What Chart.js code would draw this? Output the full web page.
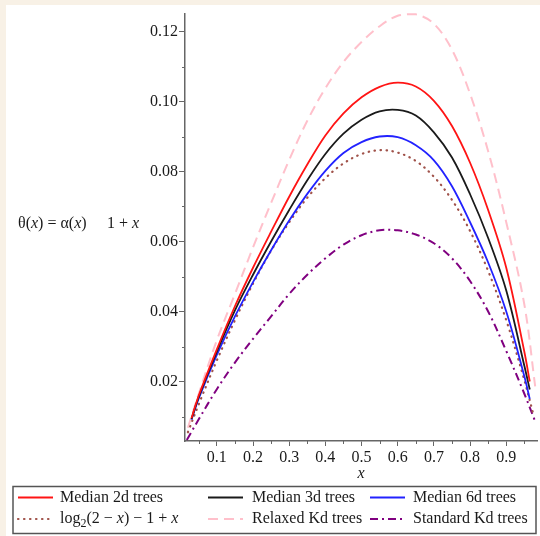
<!DOCTYPE html>
<html>
<head>
<meta charset="utf-8">
<script src="https://cdn.jsdelivr.net/npm/chart.js@4.4.1/dist/chart.umd.min.js"></script>
<style>
  html, body { margin: 0; padding: 0; background: #f8f1e6; }
  #wrap { position: absolute; left: 6px; top: 5px; width: 534px; height: 531px; background: #fff; }
</style>
</head>
<body>
<div id="wrap"><canvas id="chart" width="534" height="531"></canvas></div>
<script>
// values
const medianXs = [0.03, 0.05, 0.1, 0.15, 0.2, 0.25, 0.3, 0.35, 0.4, 0.45, 0.5, 0.55, 0.6, 0.65, 0.7, 0.75, 0.8, 0.85, 0.9, 0.95, 0.965]
const median2d = [0.0095, 0.0160, 0.0292, 0.0415, 0.0525, 0.0628, 0.0728, 0.0820, 0.0903, 0.0966, 0.1012, 0.1042, 0.1054, 0.1043, 0.1002, 0.0930, 0.0825, 0.0690, 0.0525, 0.0285, 0.0200]
const median3d = [0.0093, 0.0156, 0.0285, 0.0403, 0.0505, 0.0600, 0.0690, 0.0775, 0.0850, 0.0908, 0.0948, 0.0972, 0.0976, 0.0960, 0.0912, 0.0840, 0.0735, 0.0610, 0.0460, 0.0245, 0.0177]
const median6d = [0.0091, 0.0152, 0.0276, 0.0386, 0.0484, 0.0575, 0.0660, 0.0736, 0.0802, 0.0853, 0.0884, 0.0900, 0.0898, 0.0875, 0.0832, 0.0758, 0.0655, 0.0540, 0.0400, 0.0215, 0.0150]

const logXs = [0.02, 0.05, 0.1, 0.15, 0.2, 0.25, 0.3, 0.35, 0.4, 0.45, 0.5, 0.55, 0.6, 0.65, 0.7, 0.75, 0.8, 0.85, 0.9, 0.95, 0.975]
const logValues = [0.0055, 0.0135, 0.0260, 0.0375, 0.0480, 0.0574, 0.0655, 0.0725, 0.0781, 0.0823, 0.0850, 0.0861, 0.0854, 0.0830, 0.0785, 0.0719, 0.0630, 0.0516, 0.0375, 0.0204, 0.0106]

const relaxedXs = [0.02, 0.05, 0.1, 0.15, 0.2, 0.25, 0.3, 0.35, 0.4, 0.45, 0.5, 0.55, 0.6, 0.65, 0.7, 0.75, 0.8, 0.85, 0.9, 0.95, 0.98]
const relaxed = [0.0068, 0.0165, 0.0318, 0.0450, 0.0583, 0.0710, 0.0833, 0.0945, 0.1038, 0.1113, 0.1170, 0.1215, 0.1245, 0.1249, 0.1222, 0.1148, 0.1022, 0.0858, 0.0655, 0.0420, 0.0186]

const standardXs = [0.017, 0.05, 0.1, 0.15, 0.2, 0.25, 0.3, 0.35, 0.4, 0.45, 0.5, 0.55, 0.6, 0.65, 0.7, 0.75, 0.8, 0.85, 0.9, 0.95, 0.98]
const standard = [0.0033, 0.0092, 0.0178, 0.0254, 0.0322, 0.0386, 0.0450, 0.0505, 0.0552, 0.0591, 0.0618, 0.0632, 0.0632, 0.0620, 0.0595, 0.0552, 0.0487, 0.0400, 0.0287, 0.0165, 0.0086]

const seriesLabels = ['Median 2d trees', 'Median 3d trees', 'Median 6d trees', 'log2(2 - x) - 1 + x', 'Relaxed Kd trees', 'Standard Kd trees']

const xTicks = [0.1, 0.2, 0.3, 0.4, 0.5, 0.6, 0.7, 0.8, 0.9]
const xTickLabels = ['0.1', '0.2', '0.3', '0.4', '0.5', '0.6', '0.7', '0.8', '0.9']
const xMinorTicks = [0.05, 0.15, 0.25, 0.35, 0.45, 0.55, 0.65, 0.75, 0.85, 0.95]
const yTicks = [0.02, 0.04, 0.06, 0.08, 0.10, 0.12]
const yTickLabels = ['0.02', '0.04', '0.06', '0.08', '0.10', '0.12']
const yMinorTicks = [0.01, 0.03, 0.05, 0.07, 0.09, 0.11]

const serif = "'Liberation Serif', 'Times New Roman', serif"
const axisColor = '#666'
const textColor = '#1a1a1a'

const toPoints = (xs, ys) => xs.map((x, i) => ({x: x, y: ys[i]}))

function drawRich(ctx, x, y, parts, size){
    parts.forEach(p => {
        ctx.font = (p.it ? 'italic ' : '') + (p.sub ? size * 0.75 : size) + 'px ' + serif
        ctx.fillText(p.t, x, p.sub ? y + size * 0.3 : y)
        x += ctx.measureText(p.t).width
    })
}

const minorTicks = {
    id: 'minorTicks',
    afterDraw(chart){
        const ctx = chart.ctx, xs = chart.scales.x, ys = chart.scales.y
        const area = chart.chartArea
        ctx.save()
        ctx.strokeStyle = axisColor
        ctx.lineWidth = 1
        yMinorTicks.forEach(v => {
            const py = Math.round(ys.getPixelForValue(v)) + 0.5
            ctx.beginPath(); ctx.moveTo(area.left - 3, py); ctx.lineTo(area.left, py); ctx.stroke()
        })
        xMinorTicks.forEach(v => {
            const px = Math.round(xs.getPixelForValue(v)) + 0.5
            ctx.beginPath(); ctx.moveTo(px, area.bottom); ctx.lineTo(px, area.bottom + 3); ctx.stroke()
        })
        ctx.restore()
    }
}

const yLabel = {
    id: 'yLabel',
    afterDraw(chart){
        const ctx = chart.ctx
        ctx.save()
        ctx.fillStyle = textColor
        ctx.textBaseline = 'middle'
        drawRich(ctx, 12, 219, [{t: 'θ('}, {t: 'x', it: true}, {t: ') = α('}, {t: 'x', it: true}, {t: ')'}], 16)
        drawRich(ctx, 101, 219, [{t: '1 + '}, {t: 'x', it: true}], 16)
        ctx.restore()
    }
}

const boxLegend = {
    id: 'boxLegend',
    afterDraw(chart){
        const ctx = chart.ctx
        ctx.save()
        ctx.strokeStyle = '#555'
        ctx.lineWidth = 1.5
        ctx.strokeRect(7, 481.5, 523, 47)
        const cols = [[12, 54], [202, 246], [364, 407]]
        const rows = [492.5, 514]
        chart.data.datasets.forEach((ds, i) => {
            const c = cols[i % 3], y = rows[Math.floor(i / 3)]
            ctx.strokeStyle = ds.borderColor
            ctx.lineWidth = ds.borderWidth
            ctx.lineCap = ds.borderCapStyle || 'butt'
            ctx.setLineDash(ds.borderDash || [])
            ctx.beginPath(); ctx.moveTo(c[0], y); ctx.lineTo(c[0] + 35, y); ctx.stroke()
            ctx.setLineDash([])
            ctx.fillStyle = textColor
            ctx.textBaseline = 'middle'
            if (i === 3) {
                drawRich(ctx, c[1], y, [{t: 'log'}, {t: '2', sub: true}, {t: '(2 − '}, {t: 'x', it: true}, {t: ') − 1 + '}, {t: 'x', it: true}], 16)
            } else {
                drawRich(ctx, c[1], y, [{t: ds.label}], 16)
            }
        })
        ctx.restore()
    }
}

const line = (label, xs, ys, color, width, dash, cap) => ({
    label: label,
    data: toPoints(xs, ys),
    borderColor: color,
    borderWidth: width,
    borderDash: dash,
    borderCapStyle: cap || 'butt',
    pointRadius: 0,
    fill: false,
    tension: 0.35,
    clip: 4
})

const config = {
    type: 'line',
    data: {
        datasets: [
            line(seriesLabels[0], medianXs, median2d, '#ff1414', 1.8, []),
            line(seriesLabels[1], medianXs, median3d, '#1a1a1a', 1.8, []),
            line(seriesLabels[2], medianXs, median6d, '#2222ff', 1.8, []),
            line(seriesLabels[3], logXs, logValues, '#a0524a', 2.2, [0.5, 5.5], 'round'),
            line(seriesLabels[4], relaxedXs, relaxed, '#ffc0cb', 2, [10, 6]),
            line(seriesLabels[5], standardXs, standard, '#800080', 2, [8, 4, 2, 4])
        ]
    },
    options: {
        responsive: false,
        animation: false,
        layout: {padding: {left: 0, top: 9, right: 3, bottom: 53}},
        plugins: {legend: {display: false}, tooltip: {enabled: false}},
        scales: {
            x: {
                type: 'linear',
                min: 0.012,
                max: 0.985,
                afterBuildTicks: s => { s.ticks = xTicks.map(v => ({value: v})) },
                afterFit: s => { s.height = 42; s.paddingLeft = 0; s.paddingRight = 0 },
                grid: {drawOnChartArea: false, tickLength: 5, tickColor: axisColor, tickWidth: 1},
                border: {color: axisColor, width: 1.5},
                ticks: {
                    font: {family: serif, size: 16}, color: textColor, padding: 2,
                    maxRotation: 0, autoSkip: false,
                    callback: (v, i) => xTickLabels[i]
                },
                title: {display: true, text: 'x', color: textColor, font: {family: serif, size: 16, style: 'italic'}, padding: {top: 0, bottom: 0}}
            },
            y: {
                type: 'linear',
                min: 0.003,
                max: 0.125,
                afterBuildTicks: s => { s.ticks = yTicks.map(v => ({value: v})) },
                afterFit: s => { s.width = 179; s.paddingTop = 0; s.paddingBottom = 0 },
                grid: {drawOnChartArea: false, tickLength: 6, tickColor: axisColor, tickWidth: 1},
                border: {color: axisColor, width: 1.5},
                ticks: {
                    font: {family: serif, size: 16}, color: textColor, padding: 1,
                    autoSkip: false,
                    callback: (v, i) => yTickLabels[i]
                }
            }
        }
    },
    plugins: [minorTicks, yLabel, boxLegend]
}

const result_chart = new Chart(document.getElementById('chart').getContext('2d'), config)
</script>
</body>
</html>
